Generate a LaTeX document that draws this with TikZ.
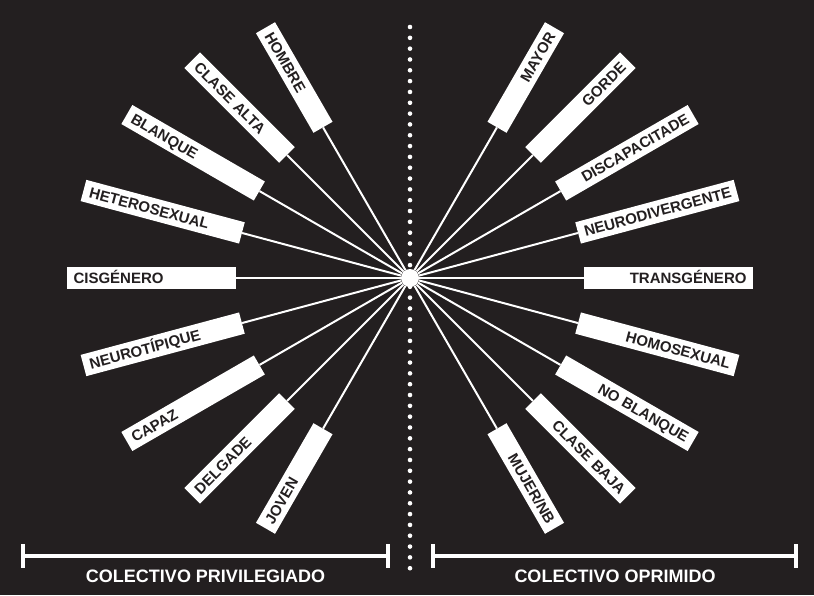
\documentclass[tikz,border=0pt]{standalone}
\usepackage{fontspec}
\setmainfont{Liberation Sans}
\definecolor{bg}{HTML}{231F20}
\begin{document}
\begin{tikzpicture}[x=1pt,y=1pt]
    \tikzstyle{every node}+=[inner sep=0pt]
    \tikzstyle{tag}=[fill=white, text=bg, font=\fontsize{15pt}{15pt}\selectfont\bfseries, inner xsep=6.5pt, minimum height=22pt, text height=10.8pt, text depth=0pt]
    \tikzstyle{tagl}=[tag, align=left]
    \tikzstyle{tagr}=[tag, align=right]
    \tikzstyle{ray}=[white, line width=2pt]
    \tikzstyle{bar}=[white, line width=4.5pt]
    \tikzstyle{caption}=[text=white, font=\fontsize{18pt}{18pt}\selectfont\bfseries, anchor=base]
    \fill [bg] (0,0) rectangle (814,-595);
    \draw [white, line width=4.6pt, line cap=round, dash pattern=on 0pt off 10.824pt] (410,-27) -- (410,-579);
    \node [circle, fill=white, minimum size=18pt] (hub) at (410,-278) {};
    \node [tagl, rotate=-60, text width=102pt] (hombre) at (294.25,-77.5) {HOMBRE};
    \node [tagl, rotate=-45, text width=121pt] (clasealta) at (239.6,-107.6) {CLASE ALTA};
    \node [tagl, rotate=-30, text width=140pt] (blanque) at (193.1,-152.75) {BLANQUE};
    \node [tagl, rotate=-15, text width=151pt] (hetero) at (162.7,-211.7) {HETEROSEXUAL};
    \node [tagl, text width=156pt] (cis) at (151.5,-278) {CISGÉNERO};
    \node [tagl, rotate=15, text width=151pt] (neurot) at (162.7,-344.3) {NEUROTÍPIQUE};
    \node [tagl, rotate=30, text width=140pt] (capaz) at (193.1,-403.25) {CAPAZ};
    \node [tagl, rotate=45, text width=121pt] (delgade) at (239.6,-448.4) {DELGADE};
    \node [tagl, rotate=60, text width=102pt] (joven) at (294.25,-478.5) {JOVEN};
    \node [tagr, rotate=60, text width=102pt] (mayor) at (525.75,-77.5) {MAYOR};
    \node [tagr, rotate=45, text width=121pt] (gorde) at (580.4,-107.6) {GORDE};
    \node [tagr, rotate=30, text width=140pt] (discap) at (626.9,-152.75) {DISCAPACITADE};
    \node [tagr, rotate=15, text width=151pt] (neurod) at (657.3,-211.7) {NEURODIVERGENTE};
    \node [tagr, text width=156pt] (trans) at (668.5,-278) {TRANSGÉNERO};
    \node [tagr, rotate=-15, text width=151pt] (homo) at (657.3,-344.3) {HOMOSEXUAL};
    \node [tagr, rotate=-30, text width=140pt] (noblanque) at (626.9,-403.25) {NO BLANQUE};
    \node [tagr, rotate=-45, text width=121pt] (clasebaja) at (580.4,-448.4) {CLASE BAJA};
    \node [tagr, rotate=-60, text width=102pt] (mujer) at (525.75,-478.5) {MUJER/NB};
    \draw [ray] (hub) -- (hombre.east);
    \draw [ray] (hub) -- (clasealta.east);
    \draw [ray] (hub) -- (blanque.east);
    \draw [ray] (hub) -- (hetero.east);
    \draw [ray] (hub) -- (cis.east);
    \draw [ray] (hub) -- (neurot.east);
    \draw [ray] (hub) -- (capaz.east);
    \draw [ray] (hub) -- (delgade.east);
    \draw [ray] (hub) -- (joven.east);
    \draw [ray] (hub) -- (mayor.west);
    \draw [ray] (hub) -- (gorde.west);
    \draw [ray] (hub) -- (discap.west);
    \draw [ray] (hub) -- (neurod.west);
    \draw [ray] (hub) -- (trans.west);
    \draw [ray] (hub) -- (homo.west);
    \draw [ray] (hub) -- (noblanque.west);
    \draw [ray] (hub) -- (clasebaja.west);
    \draw [ray] (hub) -- (mujer.west);
    \draw [bar] (23,-544) -- (23,-568) (23,-556) -- (388,-556) (388,-544) -- (388,-568);
    \draw [bar] (433,-544) -- (433,-568) (433,-556) -- (796,-556) (796,-544) -- (796,-568);
    \node [caption] (priv) at (205.5,-582) {COLECTIVO PRIVILEGIADO};
    \node [caption] (oprim) at (615,-582) {COLECTIVO OPRIMIDO};
\end{tikzpicture}
\end{document}
